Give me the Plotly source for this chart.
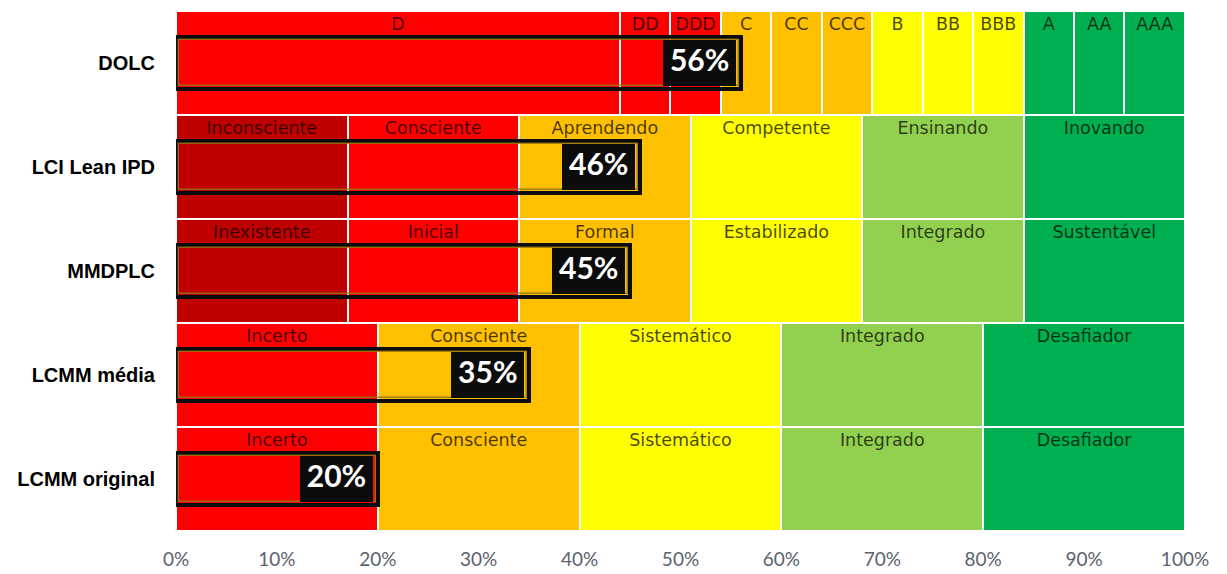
import plotly.graph_objects as go

# Maturity models, listed top to bottom
models = ["DOLC", "LCI Lean IPD", "MMDPLC", "LCMM média", "LCMM original"]

# Maturity level names per model
levels = {
    "DOLC": ["D", "DD", "DDD", "C", "CC", "CCC", "B", "BB", "BBB", "A", "AA", "AAA"],
    "LCI Lean IPD": ["Inconsciente", "Consciente", "Aprendendo", "Competente", "Ensinando", "Inovando"],
    "MMDPLC": ["Inexistente", "Inicial", "Formal", "Estabilizado", "Integrado", "Sustentável"],
    "LCMM média": ["Incerto", "Consciente", "Sistemático", "Integrado", "Desafiador"],
    "LCMM original": ["Incerto", "Consciente", "Sistemático", "Integrado", "Desafiador"],
}

# Width of each maturity level on the 0-100% scale
level_widths = {
    "DOLC": [44, 5, 5, 5, 5, 5, 5, 5, 5, 5, 5, 6],
    "LCI Lean IPD": [17, 17, 17, 17, 16, 16],
    "MMDPLC": [17, 17, 17, 17, 16, 16],
    "LCMM média": [20, 20, 20, 20, 20],
    "LCMM original": [20, 20, 20, 20, 20],
}

# Colour of each maturity level
level_colors = {
    "DOLC": ["#FF0000", "#FF0000", "#FF0000", "#FFC000", "#FFC000", "#FFC000",
             "#FFFF00", "#FFFF00", "#FFFF00", "#00B050", "#00B050", "#00B050"],
    "LCI Lean IPD": ["#C00000", "#FF0000", "#FFC000", "#FFFF00", "#92D050", "#00B050"],
    "MMDPLC": ["#C00000", "#FF0000", "#FFC000", "#FFFF00", "#92D050", "#00B050"],
    "LCMM média": ["#FF0000", "#FFC000", "#FFFF00", "#92D050", "#00B050"],
    "LCMM original": ["#FF0000", "#FFC000", "#FFFF00", "#92D050", "#00B050"],
}

# Measured maturity (%) per model
scores = [56, 46, 45, 35, 20]

tick_vals = [0, 10, 20, 30, 40, 50, 60, 70, 80, 90, 100]
tick_text = ["0%", "10%", "20%", "30%", "40%", "50%", "60%", "70%", "80%", "90%", "100%"]

n = len(models)
ypos = {m: n - 1 - i for i, m in enumerate(models)}

fig = go.Figure()

# Background level bands
for m in models:
    widths = level_widths[m]
    bases = [sum(widths[:k]) for k in range(len(widths))]
    fig.add_trace(go.Bar(
        orientation="h",
        y=[ypos[m]] * len(widths),
        x=widths,
        base=bases,
        width=1.0,
        marker=dict(color=level_colors[m], line=dict(color="white", width=2)),
        hoverinfo="skip",
        showlegend=False,
    ))
    # level names at the top of each band
    fig.add_trace(go.Scatter(
        x=[b + w / 2 for b, w in zip(bases, widths)],
        y=[ypos[m] + 0.36] * len(widths),
        mode="text",
        text=levels[m],
        textfont=dict(family="DejaVu Sans", size=17.5, color="rgba(0,0,0,0.72)"),
        hoverinfo="skip",
        showlegend=False,
    ))

yv = [ypos[m] for m in models]

# Score bars: outlined, no fill
fig.add_trace(go.Bar(
    orientation="h", y=yv, x=scores, base=0, width=0.5,
    marker=dict(color="rgba(0,0,0,0)", line=dict(color="#0a0a0a", width=4)),
    hoverinfo="skip", showlegend=False,
))
fig.add_trace(go.Bar(
    orientation="h", y=yv, x=[s - 0.5 for s in scores], base=0.3, width=0.44,
    marker=dict(color="rgba(0,0,0,0)", line=dict(color="rgba(150,115,20,0.85)", width=1.5)),
    hoverinfo="skip", showlegend=False,
))

# Black value boxes at the end of each score bar
box_w = 7.2
fig.add_trace(go.Bar(
    orientation="h", y=yv, x=[box_w] * n, base=[s - box_w - 0.5 for s in scores], width=0.45,
    marker=dict(color="#0b0b0b", line=dict(width=0)),
    hoverinfo="skip", showlegend=False,
))
fig.add_trace(go.Scatter(
    x=[s - box_w / 2 - 0.5 for s in scores], y=yv,
    mode="text",
    text=[f"{s}%" for s in scores],
    textfont=dict(family="Lato", size=30, color="white", weight="bold"),
    hoverinfo="skip", showlegend=False,
))

fig.update_layout(
    width=1227, height=574,
    barmode="overlay",
    bargap=0,
    plot_bgcolor="white",
    paper_bgcolor="white",
    margin=dict(l=176, r=42, t=11, b=43),
    xaxis=dict(
        range=[0, 100], tickvals=tick_vals, ticktext=tick_text,
        showgrid=False, zeroline=False, showline=False,
        tickfont=dict(family="Lato", size=19, color="#5a6270"),
        ticklabelstandoff=15,
        automargin=False,
        fixedrange=True,
    ),
    yaxis=dict(
        range=[-0.5, n - 0.5], tickvals=yv, ticktext=models,
        showgrid=False, zeroline=False, showline=False,
        tickfont=dict(family="Liberation Sans", size=20, color="black", weight="bold"),
        ticklabelstandoff=20,
        automargin=False,
        fixedrange=True,
    ),
    showlegend=False,
)

fig.write_html("out.html")
